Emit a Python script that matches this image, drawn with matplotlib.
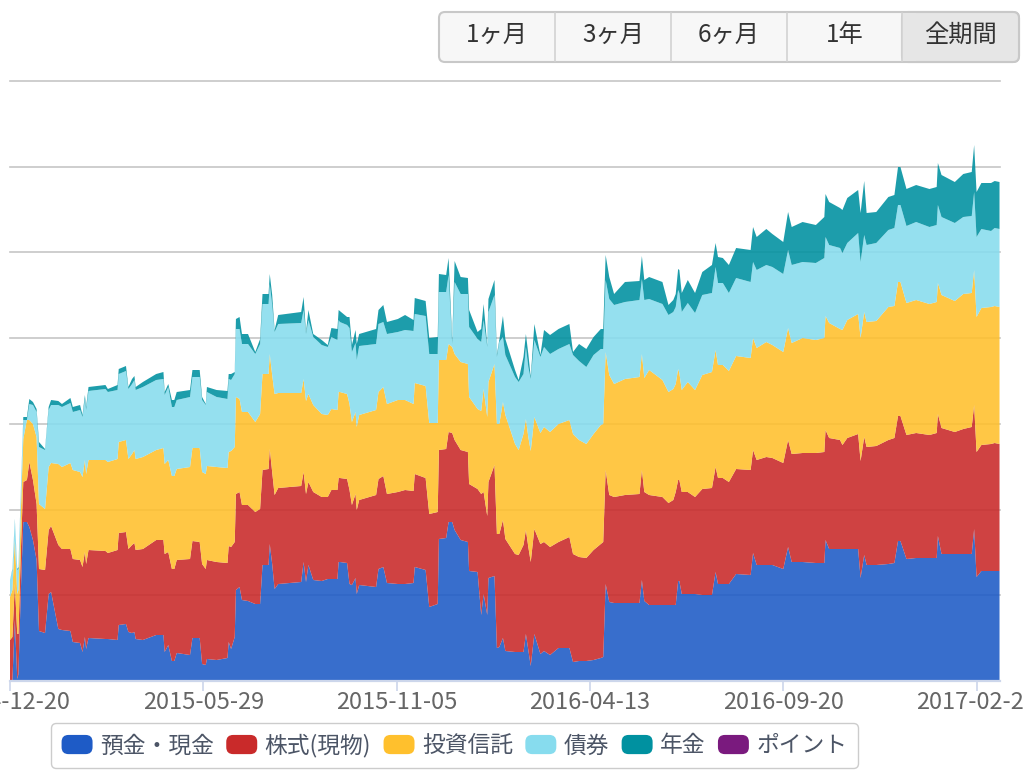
import matplotlib
matplotlib.use('Agg')
import matplotlib.pyplot as plt
import numpy as np
from matplotlib.legend_handler import HandlerPatch
from matplotlib.patches import FancyBboxPatch, Patch, Rectangle

plt.rcParams['font.family'] = ['Noto Sans CJK JP', 'DejaVu Sans']

DEPOSIT=(30/255,91/255,198/255)
STOCK=(201/255,42/255,42/255)
FUND=(255/255,192/255,45/255)
BOND=(135/255,220/255,238/255)
PENSION=(0,145/255,160/255)
POINT=(122/255,26/255,126/255)

#day since 2014-12-20, then the running total at the top of each layer (deposit, stock, fund, bond, pension)
assets=[[0,1,41,84,101,101],[2,1,44,91,111,112],[4,61,97,141,161,162],[6,2,47,87,111,112],[7,7,47,91,112,114],
[9,91,131,171,191,192],[11,159,199,242,261,264],[14,159,201,261,261,264],[16,154,219,261,277,282],[19,141,201,257,276,279],
[22,121,177,244,269,272],[24,50,112,177,234,239],[29,48,111,172,231,232],[32,87,151,214,271,274],[34,89,155,218,276,281],
[40,52,136,217,276,280],[43,51,132,214,274,277],[50,50,132,218,278,283],[52,39,122,211,269,274],[58,38,121,209,271,276],
[60,29,114,204,264,266],[62,44,129,221,282,286],[63,32,117,207,271,274],[65,43,131,221,290,294],[79,42,130,221,292,296],
[81,42,128,219,289,292],[89,41,131,222,291,296],[90,56,148,239,307,312],[96,57,149,241,310,315],[98,49,132,222,292,294],
[101,48,136,227,297,302],[103,49,138,231,301,305],[104,42,131,222,291,294],[110,41,132,224,294,299],[121,46,141,231,301,307],
[127,46,141,233,302,309],[128,29,127,217,286,289],[131,36,129,221,294,297],[134,20,112,205,274,281],[136,20,112,205,274,281],
[138,28,121,212,281,289],[149,26,122,214,284,291],[151,43,140,233,304,311],[157,43,139,233,304,311],[159,17,117,209,281,284],
[162,16,112,207,276,277],[163,22,121,215,289,294],[171,21,119,214,284,291],[180,23,118,213,282,290],[181,39,135,229,302,307],
[183,32,134,230,301,307],[186,44,139,234,307,309],[187,91,187,284,352,362],[190,94,189,282,352,364],[192,81,176,269,337,347],
[197,80,176,269,337,347],[203,77,169,259,327,329],[207,77,172,267,337,342],[209,116,211,307,377,387],[214,116,212,307,377,387],
[215,137,232,327,397,407],[217,117,209,306,376,386],[219,92,186,287,349,351],[222,97,193,288,357,366],[241,99,195,288,358,369],
[243,119,209,302,371,384],[245,99,187,280,347,349],[247,116,199,287,361,371],[251,101,189,276,344,347],[258,100,184,267,336,341],
[263,102,184,266,334,336],[266,102,191,272,344,353],[271,102,191,271,341,352],[272,119,203,289,361,371],[273,119,203,289,359,370],
[279,118,202,287,356,364],[281,97,191,277,353,364],[283,96,176,259,329,336],[286,103,187,269,338,351],[287,87,171,254,321,337],
[289,96,181,266,335,347],[303,94,186,271,337,352],[305,112,202,289,357,371],[309,114,205,294,359,376],[312,98,187,277,347,359],
[321,97,189,281,349,362],[327,97,191,281,351,366],[334,98,190,277,350,361],[335,114,207,298,367,383],[344,111,203,295,365,380],
[347,74,167,258,327,343],[354,77,169,258,327,344],[355,142,231,321,389,407],[361,143,232,321,389,406],[363,159,249,337,406,423],
[366,159,248,334,337,341],[368,151,241,327,399,420],[373,141,231,319,387,404],[379,139,229,317,387,403],[380,110,197,284,354,371],
[387,109,192,272,342,349],[390,66,187,270,339,352],[392,87,189,292,361,377],[395,66,165,264,334,336],[396,103,199,299,369,382],
[401,105,216,317,386,401],[403,33,147,257,324,327],[405,34,147,257,339,341],[408,43,161,279,344,365],[410,30,142,266,326,342],
[418,29,127,237,304,311],[421,29,126,231,299,301],[425,29,136,247,307,324],[427,47,151,262,334,347],[429,31,134,244,314,327],
[431,15,119,230,302,304],[434,47,152,264,341,357],[439,27,137,248,324,326],[442,30,139,254,334,351],[447,26,134,249,327,346],
[454,33,139,257,332,352],[463,33,144,261,337,357],[466,19,127,247,326,329],[471,20,124,241,320,337],[477,20,123,237,314,332],
[483,21,131,247,326,344],[489,23,137,256,332,352],[491,24,139,257,332,352],[493,97,211,329,401,426],[496,79,186,306,382,404],
[500,78,184,297,376,387],[509,78,186,302,379,399],[521,78,187,304,381,400],[523,101,211,327,402,425],[525,80,189,303,381,401],
[529,76,186,311,382,404],[540,76,184,301,377,399],[545,76,178,289,366,376],[549,76,181,292,369,381],[551,76,189,297,374,387],
[553,100,201,312,391,412],[554,100,201,308,388,411],[556,87,189,291,369,388],[561,87,189,299,378,401],[567,87,184,291,368,388],
[573,86,192,306,386,409],[581,86,193,309,388,416],[584,109,214,331,414,438],[586,97,203,316,398,424],[590,97,203,316,398,423],
[595,97,199,310,388,416],[601,107,212,325,403,433],[613,106,211,323,399,431],[615,128,231,343,419,454],[618,116,221,333,411,444],
[626,116,224,339,416,452],[631,116,223,336,414,447],[640,112,218,329,407,439],[644,134,241,353,431,469],[647,119,227,338,416,454],
[656,119,228,343,419,459],[667,118,228,341,418,456],[674,118,229,343,423,464],[675,141,251,365,444,487],[678,132,243,358,436,479],
[687,132,241,352,433,473],[689,132,236,351,428,471],[693,132,243,361,438,483],[702,132,247,367,448,491],[704,103,220,343,419,468],
[707,126,244,369,446,500],[709,116,234,359,436,468],[717,116,235,360,438,469],[727,117,241,374,451,484],[732,118,243,375,453,486],
[735,140,265,399,476,514],[737,140,265,399,476,514],[742,122,246,378,455,492],[750,123,248,381,459,496],[761,123,246,377,454,492],
[767,123,248,379,456,494],[768,145,267,398,476,518],[771,127,253,386,464,506],[782,127,249,380,458,499],[789,127,252,387,464,507],
[796,127,254,388,465,509],[798,152,276,411,489,536],[800,104,229,364,444,489],[804,110,236,373,452,498],[812,110,237,374,450,498],
[815,110,238,375,453,500],[819,110,237,374,452,499]]

#Defines the roundSwatch method that gives the legend its rounded colour keys
def roundSwatch(legend, orig_handle, xdescent, ydescent, width, height, fontsize):
    return FancyBboxPatch((-xdescent+4,-ydescent+4),width-8,height-8,boxstyle='round,pad=4,rounding_size=5')

#Defines the makeGraph method that intakes the table and draws the stacked areas, the legend and the range buttons
def makeGraph(data, instance):
    x=data[:,0]
    layers=np.diff(data[:,1:],axis=1,prepend=0).T
    fig = plt.figure(instance,figsize=(10.24,7.76),dpi=100)
    plt.axes([10/1024,95/776,990/1024,600/776])
    plt.stackplot(x,layers,colors=[DEPOSIT,STOCK,FUND,BOND,PENSION],alpha=0.885,linewidth=0)
    plt.xlim(0,819.4)
    plt.ylim(0,600)
    plt.xticks([0,160,320,480,640,800],['2014-12-20','2015-05-29','2015-11-05','2016-04-13','2016-09-20','2017-02-27'],fontsize=17,color='#666666')
    plt.yticks(np.linspace(0,600,8),[])
    plt.grid(axis='y',color='#c6c6c6',linewidth=1.2)
    for line in plt.gca().get_ygridlines():
        line.set_clip_on(False)
    plt.gca().set_axisbelow(True)
    plt.tick_params(axis='x',color='#ccd6eb',length=7,width=1.2,pad=0)
    plt.tick_params(axis='y',length=0)
    for side in ['top','left','right']:
        plt.gca().spines[side].set_visible(False)
    plt.gca().spines['bottom'].set_color('#ccd6eb')
    plt.gca().spines['bottom'].set_linewidth(1.6)

    handles=[Patch(facecolor=c,edgecolor='none') for c in [DEPOSIT,STOCK,FUND,BOND,PENSION,POINT]]
    names=['預金・現金','株式(現物)','投資信託','債券','年金','ポイント']
    plt.legend(handles,names,ncol=6,loc='center',bbox_to_anchor=(454.5/1024,1-745.5/776),bbox_transform=fig.transFigure,
        handler_map={Patch:HandlerPatch(patch_func=roundSwatch)},
        fontsize=16.4,labelcolor='#4c5566',frameon=True,fancybox=True,framealpha=1,edgecolor='#cccccc',
        handlelength=1.36,handleheight=0.92,handletextpad=0.33,columnspacing=0.54,borderpad=0.45)

    #the buttons sit on a second axes measured in pixels of the picture
    plt.axes([0,0,1,1])
    plt.xlim(0,1024)
    plt.ylim(776,0)
    plt.axis('off')
    plt.gca().add_patch(FancyBboxPatch((444,17),570,40,boxstyle='round,pad=5,rounding_size=6',facecolor='#f7f7f7',edgecolor='#c8c8c8',linewidth=1.5))
    plt.gca().add_patch(FancyBboxPatch((907,17),107,40,boxstyle='round,pad=5,rounding_size=6',facecolor='#e6e6e6',edgecolor='#c8c8c8',linewidth=1.5))
    plt.gca().add_patch(Rectangle((902,13),14,48,facecolor='#e6e6e6',edgecolor='none'))
    for left in [555,671,787,902]:
        plt.plot([left,left],[13,61],color='#d2d2d2',linewidth=1.2)
    for middle,name in zip([497,613,729,845,960],['1ヶ月','3ヶ月','6ヶ月','1年','全期間']):
        plt.text(middle,35,name,ha='center',va='center',fontsize=17.5,color='#333333')
    plt.xlim(0,1024)
    plt.ylim(776,0)

makeGraph(np.asarray(assets), 1)
plt.savefig('out.png',dpi=100)
